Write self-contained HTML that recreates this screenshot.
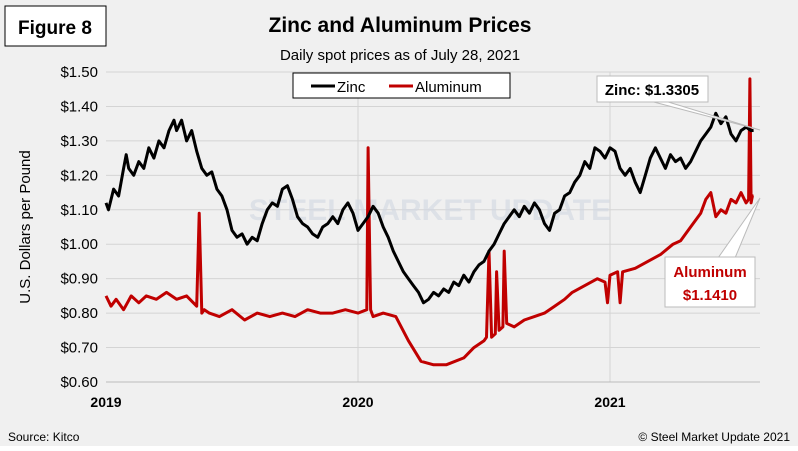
<!DOCTYPE html>
<html><head><meta charset="utf-8"><style>
body{margin:0;background:#fff;}
svg text{font-family:"Liberation Sans",sans-serif;}
</style></head><body>
<svg width="798" height="446" viewBox="0 0 798 446">
<rect x="0" y="0" width="798" height="446" fill="#f0f0f0"/>
<rect x="5" y="6" width="101" height="40" fill="#fff" stroke="#000" stroke-width="1"/>
<text x="55" y="34" text-anchor="middle" font-size="19" font-weight="bold">Figure 8</text>
<text x="400" y="32" text-anchor="middle" font-size="21" font-weight="bold">Zinc and Aluminum Prices</text>
<text x="400" y="60" text-anchor="middle" font-size="15">Daily spot prices as of July 28, 2021</text>
<g id="grid"></g>
<text x="430" y="220" text-anchor="middle" font-size="30" font-weight="bold" fill="#d2d8e2" opacity="0.6">STEEL MARKET UPDATE</text>
<g id="series"></g>
<g id="axes"></g>
<rect x="293" y="73" width="217" height="25" fill="#fff" stroke="#000"/>
<line x1="311" y1="86" x2="335" y2="86" stroke="#000" stroke-width="3"/>
<text x="337" y="92" font-size="15">Zinc</text>
<line x1="389" y1="86" x2="413" y2="86" stroke="#c00000" stroke-width="3"/>
<text x="415" y="92" font-size="15">Aluminum</text>
<text transform="translate(30,227) rotate(-90)" text-anchor="middle" font-size="15">U.S. Dollars per Pound</text>
<polygon points="650,101 665,101 760,130" fill="#fff" stroke="#bbb"/>
<rect x="597" y="76" width="111" height="26" fill="#fff" stroke="#bbb"/>
<text x="652" y="95" text-anchor="middle" font-size="15" font-weight="bold">Zinc: $1.3305</text>
<polygon points="718,258 735,258 760,198" fill="#fff" stroke="#bbb"/>
<rect x="665" y="257" width="90" height="50" fill="#fff" stroke="#bbb"/>
<text x="710" y="277" text-anchor="middle" font-size="15" font-weight="bold" fill="#c00000">Aluminum</text>
<text x="710" y="300" text-anchor="middle" font-size="15" font-weight="bold" fill="#c00000">$1.1410</text>
<text x="8" y="441" font-size="12">Source: Kitco</text>
<text x="790" y="441" text-anchor="end" font-size="12">© Steel Market Update 2021</text>
</svg>
<script>
const yTicks=[0.6,0.7,0.8,0.9,1.0,1.1,1.2,1.3,1.4,1.5];
const xTicks=[2019,2020,2021];
const zincT=[2019.0,2019.01,2019.03,2019.05,2019.07,2019.08,2019.09,2019.11,2019.13,2019.15,2019.17,2019.19,2019.21,2019.23,2019.25,2019.27,2019.28,2019.30,2019.32,2019.34,2019.36,2019.38,2019.40,2019.42,2019.44,2019.46,2019.48,2019.50,2019.52,2019.54,2019.56,2019.58,2019.60,2019.62,2019.64,2019.66,2019.68,2019.70,2019.72,2019.74,2019.76,2019.78,2019.80,2019.82,2019.84,2019.86,2019.88,2019.90,2019.92,2019.94,2019.96,2019.98,2020.0,2020.02,2020.04,2020.06,2020.08,2020.10,2020.12,2020.14,2020.16,2020.18,2020.20,2020.22,2020.24,2020.26,2020.28,2020.30,2020.32,2020.34,2020.36,2020.38,2020.40,2020.42,2020.44,2020.46,2020.48,2020.50,2020.52,2020.54,2020.56,2020.58,2020.60,2020.62,2020.64,2020.66,2020.68,2020.70,2020.72,2020.74,2020.76,2020.78,2020.80,2020.82,2020.84,2020.86,2020.88,2020.90,2020.92,2020.94,2020.96,2020.98,2021.0,2021.02,2021.04,2021.06,2021.08,2021.10,2021.12,2021.14,2021.16,2021.18,2021.20,2021.22,2021.24,2021.26,2021.28,2021.30,2021.32,2021.34,2021.36,2021.38,2021.40,2021.42,2021.44,2021.46,2021.48,2021.50,2021.52,2021.54,2021.56,2021.57];
const zincV=[1.12,1.10,1.16,1.14,1.22,1.26,1.22,1.20,1.24,1.22,1.28,1.25,1.30,1.28,1.33,1.36,1.33,1.36,1.30,1.33,1.27,1.22,1.20,1.21,1.16,1.14,1.10,1.04,1.02,1.03,1.00,1.02,1.01,1.06,1.10,1.12,1.11,1.16,1.17,1.13,1.08,1.06,1.05,1.03,1.02,1.05,1.06,1.08,1.06,1.10,1.12,1.09,1.04,1.06,1.08,1.11,1.09,1.05,1.02,0.98,0.95,0.92,0.90,0.88,0.86,0.83,0.84,0.86,0.85,0.87,0.86,0.89,0.88,0.91,0.89,0.92,0.94,0.95,0.98,1.00,1.03,1.06,1.08,1.10,1.08,1.11,1.09,1.12,1.10,1.06,1.04,1.09,1.10,1.14,1.15,1.18,1.20,1.24,1.22,1.28,1.27,1.25,1.28,1.27,1.22,1.20,1.22,1.18,1.15,1.20,1.25,1.28,1.25,1.22,1.26,1.24,1.25,1.22,1.24,1.27,1.30,1.32,1.34,1.38,1.35,1.37,1.32,1.30,1.33,1.34,1.33,1.3305];
const alT=[2019.0,2019.02,2019.04,2019.07,2019.1,2019.13,2019.16,2019.2,2019.24,2019.28,2019.32,2019.36,2019.37,2019.38,2019.39,2019.41,2019.45,2019.5,2019.55,2019.6,2019.65,2019.7,2019.75,2019.8,2019.85,2019.9,2019.95,2020.0,2020.035,2020.04,2020.05,2020.06,2020.1,2020.15,2020.2,2020.25,2020.3,2020.35,2020.42,2020.46,2020.5,2020.51,2020.52,2020.53,2020.545,2020.55,2020.56,2020.575,2020.58,2020.59,2020.62,2020.66,2020.7,2020.74,2020.78,2020.82,2020.85,2020.9,2020.95,2020.98,2020.99,2021.0,2021.03,2021.04,2021.05,2021.1,2021.15,2021.2,2021.25,2021.28,2021.32,2021.36,2021.38,2021.40,2021.42,2021.44,2021.46,2021.48,2021.50,2021.52,2021.54,2021.55,2021.555,2021.56,2021.565,2021.57];
const alV=[0.85,0.82,0.84,0.81,0.85,0.83,0.85,0.84,0.86,0.84,0.85,0.82,1.09,0.80,0.81,0.80,0.79,0.81,0.78,0.80,0.79,0.80,0.79,0.81,0.80,0.80,0.81,0.80,0.81,1.28,0.81,0.79,0.80,0.79,0.72,0.66,0.65,0.65,0.67,0.70,0.72,0.73,0.98,0.73,0.74,0.92,0.75,0.76,0.98,0.77,0.76,0.78,0.79,0.80,0.82,0.84,0.86,0.88,0.90,0.89,0.83,0.91,0.92,0.83,0.92,0.93,0.95,0.97,1.00,1.01,1.05,1.09,1.13,1.15,1.08,1.10,1.09,1.13,1.12,1.15,1.12,1.13,1.48,1.12,1.14,1.141];
const X0=106,X1=760,Y0=382,Y1=72;
function xs(t){return X0+(t-2019)*252;}
function ys(v){return Y0-(v-0.6)/(0.9)*(Y0-Y1);}
const NS="http://www.w3.org/2000/svg";
function mk(tag,attrs,parent){const e=document.createElementNS(NS,tag);for(const k in attrs)e.setAttribute(k,attrs[k]);parent.appendChild(e);return e;}
const grid=document.getElementById('grid'),axes=document.getElementById('axes'),ser=document.getElementById('series');
yTicks.forEach(v=>{
 const l=mk('line',{x1:X0,x2:X1,y1:ys(v),y2:ys(v),stroke:'#d4d4d4'},grid);
 
 
 const t=mk('text',{x:X0-8,y:ys(v)+5,'text-anchor':'end','font-size':15},axes);
 t.textContent='$'+v.toFixed(2);
 
 
});
xTicks.forEach(y=>{
 if(y>2019){const l=mk('line',{x1:xs(y),x2:xs(y),y1:Y1,y2:Y0,stroke:'#d4d4d4'},grid);
 
 }
 const t=mk('text',{x:xs(y),y:Y0+25,'text-anchor':'middle','font-size':14,'font-weight':'bold'},axes);
 t.textContent=y;
 
 
});
const ax=mk('line',{x1:X0,x2:X1,y1:Y0,y2:Y0,stroke:'#bbb'},axes);


function path(T,V){return T.map((t,i)=>(i?'L':'M')+xs(t).toFixed(1)+','+ys(V[i]).toFixed(1)).join('');}
const pa=mk('path',{d:path(alT,alV),fill:'none',stroke:'#c00000','stroke-width':3,'stroke-linejoin':'round'},ser);


const pz=mk('path',{d:path(zincT,zincV),fill:'none',stroke:'#000','stroke-width':3,'stroke-linejoin':'round'},ser);


</script>
</body></html>
